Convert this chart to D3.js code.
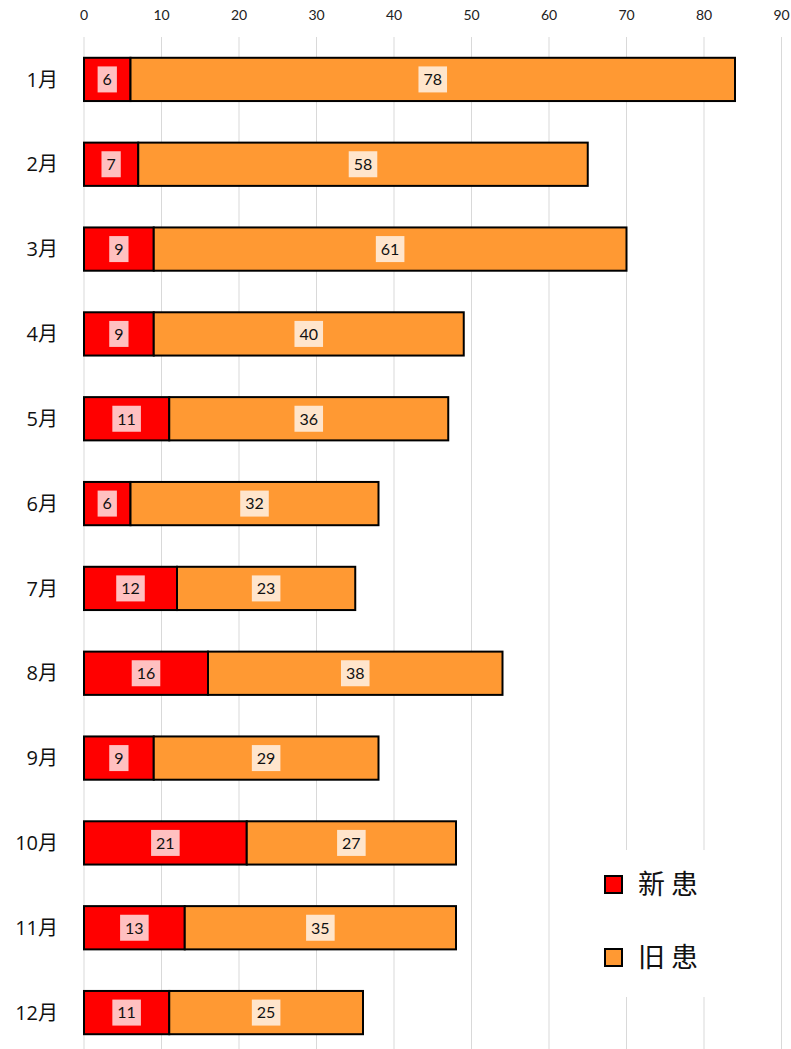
<!DOCTYPE html>
<html>
<head>
<meta charset="utf-8">
<script src="https://cdn.jsdelivr.net/npm/d3@7"></script>
<style>
  body { margin: 0; background: #fff; }
  svg { display: block; }
</style>
</head>
<body>
<div id="chart"></div>
<script>
const months = ["1月", "2月", "3月", "4月", "5月", "6月", "7月", "8月", "9月", "10月", "11月", "12月"];
const newPatients = [6, 7, 9, 9, 11, 6, 12, 16, 9, 21, 13, 11];
const oldPatients = [78, 58, 61, 40, 36, 32, 23, 38, 29, 27, 35, 25];
const seriesNames = ["新 患", "旧 患"];
const xTicks = [0, 10, 20, 30, 40, 50, 60, 70, 80, 90];

const width = 791, height = 1049;
const colors = ["#ff0000", "#ff9933"];
const labelBg = ["#ffc0c0", "#ffe5cc"];
const numFont = "Lato, 'Open Sans', sans-serif";
const catFont = "'Open Sans', 'Noto Sans CJK SC', sans-serif";
const cjkFont = "'Noto Sans CJK SC', 'Noto Sans', sans-serif";

const svg = d3.select("#chart").append("svg")
  .attr("width", width)
  .attr("height", height);

const x = d3.scaleLinear().domain([0, 90]).range([84, 781.5]);
const y = d3.scaleBand().domain(months).range([37, 1055])
  .paddingInner(0.49).paddingOuter(0.245);

// gridlines
svg.append("g").selectAll("line")
  .data(xTicks)
  .enter().append("line")
    .attr("x1", d => x(d)).attr("x2", d => x(d))
    .attr("y1", 37).attr("y2", height)
    .attr("stroke", "#d9d9d9")
    .attr("stroke-width", 1);

// tick labels
svg.append("g").selectAll("text")
  .data(xTicks)
  .enter().append("text")
    .attr("x", d => x(d))
    .attr("y", 15)
    .attr("dy", "0.35em")
    .attr("text-anchor", "middle")
    .style("font-family", numFont)
    .style("font-size", "14px")
    .attr("fill", "#222")
    .text(d => d);

// stacked data
const rows = months.map((m, i) => ({ month: m, new: newPatients[i], old: oldPatients[i] }));
const stack = d3.stack().keys(["new", "old"]);
const layers = stack(rows);

const layerG = svg.append("g").selectAll("g")
  .data(layers)
  .enter().append("g");

layerG.selectAll("rect")
  .data(d => d)
  .enter().append("rect")
    .attr("x", d => x(d[0]))
    .attr("y", d => y(d.data.month))
    .attr("width", d => x(d[1]) - x(d[0]))
    .attr("height", y.bandwidth())
    .attr("fill", function () { return colors[d3.select(this.parentNode).datum().index]; })
    .attr("stroke", "#000")
    .attr("stroke-width", 2);

// data labels with background boxes
layers.forEach((layer, li) => {
  const g = svg.append("g");
  layer.forEach(d => {
    const cx = (x(d[0]) + x(d[1])) / 2;
    const cy = y(d.data.month) + y.bandwidth() / 2;
    const lg = g.append("g");
    const bg = lg.append("rect").attr("fill", labelBg[li]);
    const t = lg.append("text")
      .attr("x", cx)
      .attr("y", cy)
      .attr("dy", "0.36em")
      .attr("text-anchor", "middle")
      .style("font-family", numFont)
      .style("font-size", "16px")
      .attr("fill", "#111")
      .text(d[1] - d[0]);
    const w = t.node().getComputedTextLength();
    bg.attr("x", cx - w / 2 - 5)
      .attr("y", cy - 13)
      .attr("width", w + 10)
      .attr("height", 26);
  });
});

// category labels
svg.append("g").selectAll("text")
  .data(months)
  .enter().append("text")
    .attr("x", 58)
    .attr("y", d => y(d) + y.bandwidth() / 2)
    .attr("dy", "0.36em")
    .attr("text-anchor", "end")
    .style("font-family", catFont)
    .style("font-size", "20px")
    .attr("fill", "#111")
    .text(d => d);

// legend
const legend = svg.append("g");
legend.append("rect")
  .attr("x", 560).attr("y", 850)
  .attr("width", 215).attr("height", 147)
  .attr("fill", "#fff");
seriesNames.forEach((name, i) => {
  const ly = 884 + i * 73;
  legend.append("rect")
    .attr("x", 605).attr("y", ly - 8)
    .attr("width", 17).attr("height", 17)
    .attr("fill", colors[i])
    .attr("stroke", "#000")
    .attr("stroke-width", 2);
  legend.append("text")
    .attr("x", 638).attr("y", ly)
    .attr("dy", "0.36em")
    .style("font-family", cjkFont)
    .style("font-size", "27px")
    .attr("fill", "#111")
    .text(name);
});
</script>
</body>
</html>
